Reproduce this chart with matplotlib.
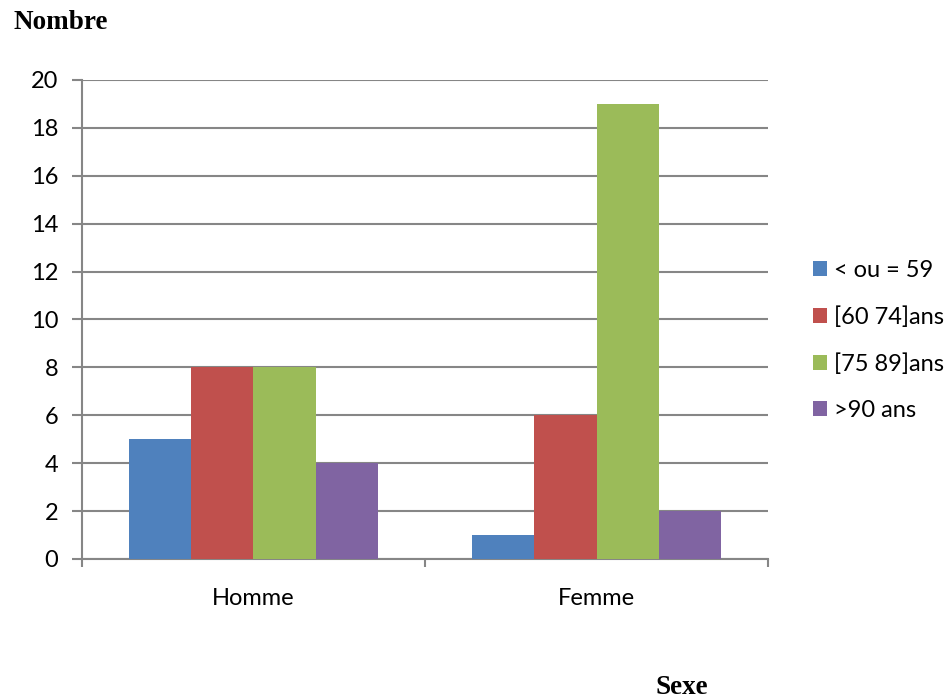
import numpy as np
import matplotlib.pyplot as plt
from matplotlib.patches import Patch

categories = ["Homme", "Femme"]
groups = ["< ou = 59", "[60 74]ans", "[75 89]ans", ">90 ans"]
values = {
    "< ou = 59": [5, 1],
    "[60 74]ans": [8, 6],
    "[75 89]ans": [8, 19],
    ">90 ans": [4, 2],
}
colors = ["#4F81BD", "#C0504D", "#9BBB59", "#8064A2"]

plt.rcParams["font.family"] = ["Lato", "DejaVu Sans"]
grid_col = "#868686"

fig = plt.figure(figsize=(9.53, 6.99), dpi=100)
ax = fig.add_axes([0.086, 0.2003, 0.72, 0.6853])

x = np.arange(len(categories))
w = 0.181
for i, g in enumerate(groups):
    ax.bar(x + (i - 1.5) * w, values[g], width=w, color=colors[i],
           edgecolor="none", zorder=3)

ax.set_xlim(-0.5, 1.5)
ax.set_ylim(0, 20)
ax.set_yticks(np.arange(0, 21, 2))
ax.yaxis.grid(True, color=grid_col, linewidth=1.5, zorder=0)
ax.tick_params(axis="y", length=7, width=1.5, color=grid_col, pad=10,
               labelsize=17)

ax.set_xticks([-0.5, 0.5, 1.5])
ax.set_xticklabels([])
ax.set_xticks(x, minor=True)
ax.set_xticklabels(categories, minor=True)
ax.tick_params(axis="x", which="major", length=6, width=1.5, color=grid_col)
ax.tick_params(axis="x", which="minor", length=0, pad=21, labelsize=17)

for s in ["top", "right"]:
    ax.spines[s].set_visible(False)
for s in ["left", "bottom"]:
    ax.spines[s].set_color(grid_col)
    ax.spines[s].set_linewidth(1.5)

handles = [Patch(facecolor=c, edgecolor="none") for c in colors]
fig.legend(handles, groups, loc="center left", bbox_to_anchor=(0.843, 0.513),
           frameon=False, fontsize=17, handlelength=0.6, handleheight=0.6,
           handletextpad=0.3, labelspacing=1.06, borderaxespad=0)

fig.text(0.014, 0.968, "Nombre", family="Liberation Serif", weight="bold",
         fontsize=19.5, va="center", ha="left")
fig.text(0.6875, 0.017, "Sexe", family="Liberation Serif", weight="bold",
         fontsize=19.5, va="center", ha="left")

fig.savefig("out.png", dpi=100)
